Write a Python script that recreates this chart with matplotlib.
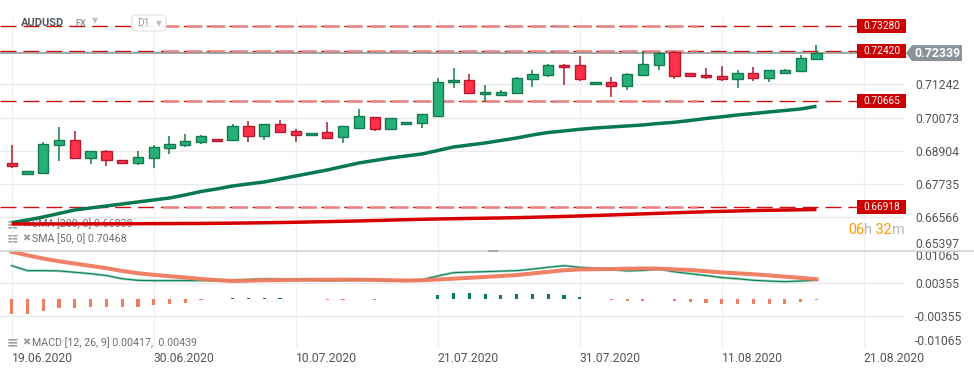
import matplotlib
matplotlib.use("Agg")
import matplotlib.pyplot as plt
import matplotlib.transforms as mtransforms
from matplotlib.patches import Rectangle, Polygon, FancyBboxPatch
from matplotlib.lines import Line2D
import numpy as np

plt.rcParams['font.family'] = ['Roboto', 'DejaVu Sans']
plt.rcParams['lines.scale_dashes'] = False

# ---------------- data ----------------
symbol = "AUDUSD"
tick_dates = ["19.06.2020", "30.06.2020", "10.07.2020", "21.07.2020",
              "31.07.2020", "11.08.2020", "21.08.2020"]
bars_per_tick = 9

opens = [0.68464, 0.68078, 0.68134, 0.69097, 0.69273, 0.68640, 0.68886, 0.68570, 0.68464, 0.68640,
         0.68992, 0.69097, 0.69203, 0.69308, 0.69273, 0.69776, 0.69414, 0.69836, 0.69589, 0.69449,
         0.69554, 0.69379, 0.69716, 0.70082, 0.69660, 0.69836, 0.69871, 0.70117, 0.71312, 0.71383,
         0.70890, 0.70855, 0.70926, 0.71418, 0.71558, 0.71910, 0.71910, 0.71242, 0.71312, 0.71172,
         0.71558, 0.71910, 0.72367, 0.71629, 0.71558, 0.71523, 0.71418, 0.71629, 0.71453, 0.71629,
         0.71699, 0.72121]
highs = [0.69108, 0.68190, 0.69203, 0.69751, 0.69600, 0.68890, 0.68932, 0.68575, 0.68897, 0.69097,
         0.69424, 0.69484, 0.69459, 0.69315, 0.69846, 0.69952, 0.69840, 0.69987, 0.69670, 0.69525,
         0.69906, 0.69770, 0.70374, 0.70085, 0.70050, 0.69910, 0.70190, 0.71453, 0.71815, 0.71604,
         0.71217, 0.71031, 0.71488, 0.71745, 0.71945, 0.71945, 0.72237, 0.71320, 0.71492, 0.71629,
         0.72367, 0.72367, 0.72402, 0.71635, 0.71805, 0.71875, 0.71734, 0.71840, 0.71740, 0.71769,
         0.72262, 0.72624]
lows = [0.68289, 0.68070, 0.68099, 0.68545, 0.68630, 0.68450, 0.68380, 0.68460, 0.68415, 0.68310,
        0.68781, 0.69027, 0.69132, 0.69230, 0.69265, 0.69224, 0.69273, 0.69519, 0.69224, 0.69445,
        0.69360, 0.69189, 0.69710, 0.69611, 0.69655, 0.69830, 0.69716, 0.70110, 0.71122, 0.70920,
        0.70620, 0.70850, 0.70890, 0.71137, 0.71488, 0.71207, 0.71340, 0.71235, 0.70778, 0.71052,
        0.71550, 0.71727, 0.71439, 0.71520, 0.71418, 0.71347, 0.71101, 0.71347, 0.71312, 0.71625,
        0.71664, 0.72086]
closes = [0.68380, 0.68183, 0.69143, 0.69284, 0.68640, 0.68886, 0.68570, 0.68464, 0.68686, 0.69027,
          0.69143, 0.69248, 0.69424, 0.69238, 0.69776, 0.69414, 0.69836, 0.69554, 0.69449, 0.69519,
          0.69364, 0.69765, 0.70117, 0.69660, 0.70047, 0.69906, 0.70187, 0.71312, 0.71383, 0.70926,
          0.70961, 0.70961, 0.71453, 0.71594, 0.71910, 0.71840, 0.71418, 0.71312, 0.71172, 0.71594,
          0.71945, 0.72332, 0.71523, 0.71523, 0.71488, 0.71418, 0.71629, 0.71453, 0.71734, 0.71734,
          0.72156, 0.72339]

sma50 = [0.66376, 0.66471, 0.66576, 0.66699, 0.66822, 0.66893, 0.66963, 0.67033, 0.67104, 0.67174,
         0.67244, 0.67350, 0.67473, 0.67561, 0.67666, 0.67737, 0.67807, 0.67912, 0.68018, 0.68123,
         0.68229, 0.68352, 0.68475, 0.68563, 0.68651, 0.68721, 0.68791, 0.68914, 0.69037, 0.69108,
         0.69178, 0.69266, 0.69354, 0.69459, 0.69547, 0.69600, 0.69660, 0.69706, 0.69741, 0.69776,
         0.69811, 0.69864, 0.69906, 0.69969, 0.70040, 0.70099, 0.70163, 0.70215, 0.70268, 0.70321,
         0.70374, 0.70468]
sma200 = [0.66330, 0.66331, 0.66331, 0.66332, 0.66333, 0.66334, 0.66336, 0.66338, 0.66340, 0.66342,
          0.66344, 0.66346, 0.66348, 0.66354, 0.66359, 0.66365, 0.66373, 0.66381, 0.66390, 0.66402,
          0.66413, 0.66425, 0.66436, 0.66451, 0.66466, 0.66481, 0.66495, 0.66505, 0.66514, 0.66524,
          0.66533, 0.66542, 0.66552, 0.66566, 0.66580, 0.66594, 0.66612, 0.66629, 0.66647, 0.66666,
          0.66685, 0.66704, 0.66723, 0.66742, 0.66760, 0.66774, 0.66788, 0.66802, 0.66811, 0.66820,
          0.66829, 0.66838]

macd_line = [0.00734, 0.00626, 0.00626, 0.00620, 0.00590, 0.00560, 0.00520, 0.00450, 0.00415, 0.00409,
             0.00409, 0.00409, 0.00409, 0.00409, 0.00420, 0.00435, 0.00445, 0.00442, 0.00439, 0.00425,
             0.00405, 0.00410, 0.00425, 0.00425, 0.00415, 0.00405, 0.00430, 0.00510, 0.00582, 0.00595,
             0.00604, 0.00615, 0.00626, 0.00660, 0.00700, 0.00734, 0.00700, 0.00675, 0.00650, 0.00620,
             0.00630, 0.00660, 0.00600, 0.00560, 0.00520, 0.00475, 0.00450, 0.00417, 0.00400, 0.00387,
             0.00400, 0.00417]
macd_signal = [0.01039, 0.00960, 0.00890, 0.00830, 0.00780, 0.00730, 0.00680, 0.00620, 0.00570, 0.00535,
               0.00505, 0.00478, 0.00445, 0.00420, 0.00400, 0.00408, 0.00418, 0.00420, 0.00425, 0.00428,
               0.00428, 0.00430, 0.00428, 0.00425, 0.00418, 0.00410, 0.00417, 0.00435, 0.00452, 0.00470,
               0.00489, 0.00510, 0.00530, 0.00565, 0.00600, 0.00635, 0.00652, 0.00658, 0.00662, 0.00668,
               0.00675, 0.00670, 0.00655, 0.00640, 0.00615, 0.00588, 0.00568, 0.00548, 0.00522, 0.00495,
               0.00470, 0.00439]
macd_hist = [-0.00326, -0.00311, -0.00246, -0.00188, -0.00188, -0.00167, -0.00167, -0.00167, -0.00167, -0.00130,
             -0.00101, -0.00072, -0.00022, 0.00000, 0.00029, 0.00029, 0.00029, 0.00029, 0.00014, 0.00000,
             -0.00022, -0.00022, 0.00000, -0.00022, 0.00000, 0.00000, 0.00014, 0.00101, 0.00145, 0.00145,
             0.00123, 0.00101, 0.00123, 0.00123, 0.00123, 0.00101, 0.00058, 0.00014, -0.00022, -0.00043,
             -0.00043, 0.00000, -0.00043, -0.00065, -0.00087, -0.00109, -0.00109, -0.00109, -0.00109, -0.00109,
             -0.00065, -0.00022]

levels = [0.73280, 0.72420, 0.70665, 0.66918]
last_price = 0.72339
main_ticks = [0.71242, 0.70073, 0.68904, 0.67735, 0.66566, 0.65397]
main_top = 0.73580
macd_ticks = [0.01065, 0.00355, -0.00355, -0.01065]
sma_labels = ["SMA [200, 0] 0.66838", "SMA [50, 0] 0.70468"]
macd_label = "MACD [12, 26, 9] 0.00417,  0.00439"
timer_parts = [("06", "#ff9800"), ("h", "#b8b8b8"), (" 32", "#ff9800"), ("m", "#b8b8b8")]

# ---------------- figure ----------------
W, H = 974, 375
fig = plt.figure(figsize=(W / 100, H / 100), dpi=100)
fig.patch.set_facecolor("white")

def fx(px):
    return px / W

def fy(py):
    return 1 - py / H

plot_right = 905
main_top_px, sep_px, macd_bot_px = 17.8, 250.5, 348.3
ax = fig.add_axes([0, fy(sep_px), fx(plot_right), (sep_px - main_top_px) / H])
axm = fig.add_axes([0, fy(macd_bot_px), fx(plot_right), (macd_bot_px - sep_px) / H])

n = len(opens)
x = np.arange(n)
xlim = (-0.741, 56.61)
tick_pos = [i * bars_per_tick for i in range(len(tick_dates))]

for a in (ax, axm):
    a.set_xlim(*xlim)
    for s in a.spines.values():
        s.set_visible(False)
    a.set_facecolor("none")
    a.set_xticks(tick_pos)
    a.grid(True, axis="x", color="#f0f0f0", lw=1.0, zorder=0)
    a.grid(True, axis="y", color="#ebebeb", lw=1.0, zorder=0)
    a.yaxis.tick_right()
    a.tick_params(axis="y", length=0, pad=7.2, labelsize=8.7, labelcolor="#555555")
    a.tick_params(axis="x", length=0)

ax.set_ylim(main_ticks[-1], main_top)
ax.set_yticks(main_ticks)
ax.set_yticklabels([f"{v:.5f}" for v in main_ticks])
ax.get_yticklabels()[-1].set_va("bottom")
ax.set_xticklabels([])

axm.set_ylim(macd_ticks[-1], macd_ticks[0])
axm.set_yticks(macd_ticks)
axm.set_yticklabels([f"{v:.5f}" for v in macd_ticks])
axm.get_yticklabels()[0].set_va("top")
axm.get_yticklabels()[-1].set_va("bottom")
axm.set_xticklabels(tick_dates, ha="left", fontsize=8.7, color="#555555")
axm.tick_params(axis="x", pad=2.5)

# ---------------- candles ----------------
o = np.array(opens); c = np.array(closes); h = np.array(highs); l = np.array(lows)
up = c >= o
g_fill, g_edge = "#27b077", "#167a50"
r_fill, r_edge = "#ff3048", "#b31a2e"
ax.vlines(x[up], l[up], h[up], color=g_edge, lw=1.1, zorder=3)
ax.vlines(x[~up], l[~up], h[~up], color=r_edge, lw=1.1, zorder=3)
bw = 0.65
ax.bar(x[up], c[up] - o[up], bottom=o[up], width=bw, color=g_fill, edgecolor=g_edge, lw=1.0, zorder=4)
ax.bar(x[~up], o[~up] - c[~up], bottom=c[~up], width=bw, color=r_fill, edgecolor=r_edge, lw=1.0, zorder=4)

# moving averages
ax.plot(x, sma50, color="#067a4e", lw=2.5, zorder=5, solid_capstyle="butt")
ax.plot(x, sma200, color="#d60000", lw=2.5, zorder=5, solid_capstyle="butt")

# horizontal levels
dash = (0, (11.5, 5.0))
x_end = 857 / plot_right
for lv in levels:
    ax.axhline(lv, xmin=0, xmax=x_end, color="#cc1010", lw=1.0, ls=dash, zorder=2)
    ax.axhline(lv, xmin=163 / plot_right, xmax=697 / plot_right, color="#e98585", lw=1.8,
               ls=(0, (11.5, 5.0)), zorder=2.1)

ax.axhline(last_price, xmin=0, xmax=1, color="#8e8e8e", lw=1.1, zorder=2.5)

bt = mtransforms.blended_transform_factory(ax.transAxes, ax.transData)
px_per_price = (sep_px - main_top_px) / (main_top - main_ticks[-1])
box_h = 14 / px_per_price
for lv in levels:
    ax.add_patch(Rectangle((x_end, lv - box_h / 2), 49 / plot_right, box_h, transform=bt,
                           facecolor="#cc0000", edgecolor="none", zorder=6, clip_on=False))
    ax.text((857 + 24.5) / plot_right, lv, f"{lv:.5f}", transform=bt, color="white",
            fontsize=7.3, ha="center", va="center", zorder=7, clip_on=False)

gh = 8 / px_per_price
poly = [(906 / plot_right, last_price), (912 / plot_right, last_price + gh),
        (962 / plot_right, last_price + gh), (962 / plot_right, last_price - gh),
        (912 / plot_right, last_price - gh)]
ax.add_patch(Polygon(poly, closed=True, transform=bt, facecolor="#8a9398",
                     edgecolor="none", zorder=6, clip_on=False))
ax.text(937 / plot_right, last_price, f"{last_price:.5f}", transform=bt, color="white",
        fontsize=8.9, fontweight="bold", ha="center", va="center", zorder=7, clip_on=False)

# indicator legends (under lines)
for txt, ypx in zip(sma_labels, [224.0, 238.5]):
    ya = (sep_px - ypx) / (sep_px - main_top_px)
    ax.text(7 / plot_right, ya, "\u2261", transform=ax.transAxes, color="#9a9a9a",
            fontsize=10, fontweight="bold", va="center", ha="left", zorder=1.5,
            family=["DejaVu Sans"])
    ax.text(22 / plot_right, ya, "\u2716", transform=ax.transAxes, color="#a0a0a0",
            fontsize=7, va="center", ha="left", zorder=1.5, family=["DejaVu Sans"])
    ax.text(32 / plot_right, ya, txt, transform=ax.transAxes, color="#6e6e6e",
            fontsize=7.7, va="center", ha="left", zorder=1.5)

# timer text
t = fig.text(fx(848), fy(230), timer_parts[0][0], color=timer_parts[0][1],
             fontsize=10.4, ha="left", va="center")
prev = t
for part, col in timer_parts[1:]:
    prev = fig.text(0, 0, "")  # placeholder removed below
    prev.remove()
    prev = ax.annotate(part, xy=(1, 0.5), xycoords=t, ha="left", va="center",
                       color=col, fontsize=10.4, annotation_clip=False)
    t = prev

# ---------------- MACD ----------------
hv = np.array(macd_hist)
pos = hv >= 0
axm.bar(x[pos], hv[pos], width=0.2, color="#0b7d53", zorder=3)
axm.bar(x[~pos], hv[~pos], width=0.2, color="#f07c62", zorder=3)
axm.plot(x, macd_line, color="#8fd0b4", lw=1.8, zorder=4)
axm.plot(x, macd_line, color="#0a7a50", lw=0.7, zorder=4.1)
axm.plot(x, macd_signal, color="#ee7a5e", lw=2.9, zorder=5, alpha=0.95)

my = (macd_bot_px - 342.3) / (macd_bot_px - sep_px)
axm.text(7 / plot_right, my, "\u2261", transform=axm.transAxes, color="#9a9a9a",
         fontsize=10, fontweight="bold", va="center", ha="left", family=["DejaVu Sans"])
axm.text(22 / plot_right, my, "\u2716", transform=axm.transAxes, color="#a0a0a0",
         fontsize=7, va="center", ha="left", family=["DejaVu Sans"])
axm.text(32 / plot_right, my, macd_label, transform=axm.transAxes, color="#6e6e6e",
         fontsize=7.7, va="center", ha="left")

# separator and handle
fig.add_artist(Line2D([0, 1], [fy(sep_px), fy(sep_px)], transform=fig.transFigure,
                      color="#d4d4d4", lw=1.2, zorder=8))
fig.add_artist(Rectangle((fx(488), fy(252)), fx(10), 2 / H, transform=fig.transFigure,
                         facecolor="#a8a8a8", edgecolor="none", zorder=9))

# top-left header
fig.text(fx(21), fy(23), symbol, color="#50575d", fontsize=8.0, fontweight="bold",
         ha="left", va="center", zorder=10)
fig.text(fx(75), fy(24), "FX", color="#8d9aa5", fontsize=6.6, fontweight="bold",
         ha="left", va="center", zorder=10)
fig.text(fx(95), fy(21), "\u25BC", color="#c0c0c0", fontsize=5.5, ha="center",
         va="center", family=["DejaVu Sans"], zorder=10)
fig.add_artist(FancyBboxPatch((fx(132), fy(31)), fx(34), 16 / H,
                              boxstyle="round,pad=0,rounding_size=0.006",
                              transform=fig.transFigure, facecolor="white",
                              edgecolor="#dddddd", lw=0.8, alpha=0.9, zorder=9))
fig.text(fx(137), fy(23.5), "D1", color="#9a9a9a", fontsize=7.3, ha="left",
         va="center", zorder=10)
fig.text(fx(159), fy(24), "\u25BC", color="#c0c0c0", fontsize=5.5, ha="center",
         va="center", family=["DejaVu Sans"], zorder=10)

fig.savefig("out.png", dpi=100, facecolor="white")
